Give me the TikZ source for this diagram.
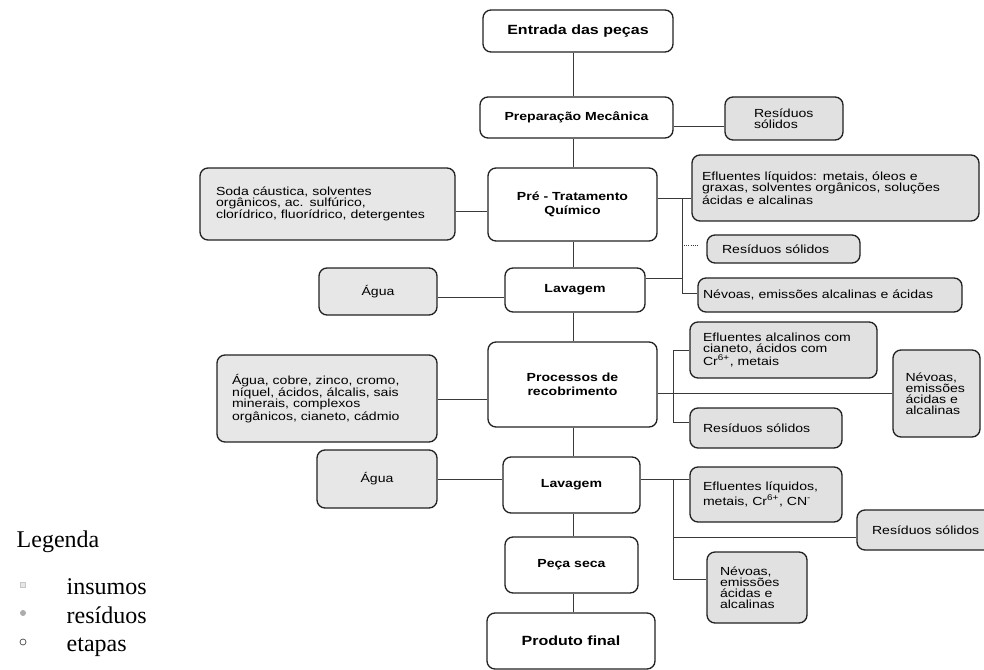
\documentclass[tikz,border=0pt]{standalone}
\usepackage{fontspec}
\setmainfont{Liberation Sans}[FakeStretch=1.2]
\newfontfamily\legendfont{Liberation Serif}
\usetikzlibrary{calc}

\definecolor{insumocor}{HTML}{E7E7E7}
\definecolor{residuocor}{HTML}{E1E1E1}
\definecolor{borda}{HTML}{222222}
\definecolor{linha}{HTML}{3A3A3A}

\tikzset{
  caixa/.style 2 args={draw=borda, line width=1pt, rounded corners=6pt, minimum width=#1*0.75pt, minimum height=#2*0.75pt, inner sep=0pt},
  tw/.style={text width=#1*0.75pt},
  etapa/.style={fill=white, align=center, font=\fontsize{8.8}{10.5}\selectfont\bfseries},
  insumo/.style={fill=insumocor, align=left, font=\fontsize{8.8}{8.3}\selectfont},
  residuo/.style={fill=residuocor, align=left, font=\fontsize{8.8}{8.3}\selectfont},
  liga/.style={draw=linha, line width=0.6pt},
  legtexto/.style={anchor=base west, font=\legendfont\fontsize{18}{20}\selectfont}
}

\begin{document}
\begin{tikzpicture}[x=0.75pt, y=-0.75pt]
\useasboundingbox (0,0) rectangle (984,670);

%Etapas
\node[caixa={190}{42}, etapa, font=\fontsize{10}{12}\selectfont\bfseries] (entrada) at (578,31) {Entrada das peças};
\node[caixa={193}{41}, etapa] (prep) at (576.5,117.5) {Preparação Mecânica};
\node[caixa={169}{73}, etapa] (pretrat) at (572.5,204.5) {Pré - Tratamento\\Químico};
\node[caixa={140}{44}, etapa] (lav1) at (575,290) {Lavagem};
\node[caixa={169}{85}, etapa] (proc) at (572.5,384.5) {Processos de\\recobrimento};
\node[caixa={137}{56}, etapa] (lav2) at (571.5,485) {Lavagem};
\node[caixa={133}{56}, etapa] (seca) at (571.5,565) {Peça seca};
\node[caixa={168}{56}, etapa, font=\fontsize{10}{12}\selectfont\bfseries] (final) at (571,641) {Produto final};

%Insumos
\node[caixa={255}{72}, insumo, tw=223] (soda) at (327.5,204) {Soda cáustica, solventes\\orgânicos, ac. sulfúrico,\\clorídrico, fluorídrico, detergentes};
\node[caixa={118}{47}, insumo, align=center] (agua1) at (378,291.5) {Água};
\node[caixa={220}{87}, insumo, tw=190] (aguacobre) at (327,398.5) {Água, cobre, zinco, cromo,\\níquel, ácidos, álcalis, sais\\minerais, complexos\\orgânicos, cianeto, cádmio};
\node[caixa={120}{58}, insumo, align=center] (agua2) at (377,479) {Água};

%Residuos
\node[caixa={118}{43}, residuo, tw=60] (res1) at (784,118.5) {Resíduos\\sólidos};
\node[caixa={287}{66}, residuo, tw=267] (efl1) at (835.5,188) {Efluentes líquidos: metais, óleos e\\graxas, solventes orgânicos, soluções\\ácidas e alcalinas};
\node[caixa={153}{28}, residuo, tw=123] (res2) at (783.5,249) {Resíduos sólidos};
\node[caixa={264}{34}, residuo, tw=254] (nev1) at (830,295) {Névoas, emissões alcalinas e ácidas};
\node[caixa={187}{56}, residuo, tw=161] (eflalc) at (783.5,350) {Efluentes alcalinos com\\cianeto, ácidos com\\Cr\textsuperscript{6+}, metais};
\node[caixa={87}{87}, residuo, tw=62] (nev2) at (936.5,393.5) {Névoas,\\emissões\\ácidas e\\alcalinas};
\node[caixa={152}{40}, residuo, tw=126] (res3) at (766,428) {Resíduos sólidos};
\node[caixa={152}{55}, residuo, tw=126] (efl2) at (766,494.5) {Efluentes líquidos,\\metais, Cr\textsuperscript{6+}, CN\textsuperscript{-}};
\node[caixa={143}{40}, residuo, tw=113] (res4) at (928.5,530) {Resíduos sólidos};
\node[caixa={100}{71}, residuo, tw=74] (nev3) at (757,587.5) {Névoas,\\emissões\\ácidas e\\alcalinas};

%Ligacoes - eixo central
\coordinate (eixo) at (573,0);
\foreach \a/\b in {entrada/prep, prep/pretrat, pretrat/lav1, lav1/proc, proc/lav2, lav2/seca, seca/final}
  \draw[liga] (\a.south -| eixo) -- (\b.north -| eixo);

%Ligacoes - insumos
\coordinate (s1) at (0,211);
\coordinate (a1) at (0,297);
\coordinate (a2) at (0,399);
\coordinate (a3) at (0,479);
\draw[liga] (soda.east |- s1) -- (pretrat.west |- s1);
\draw[liga] (agua1.east |- a1) -- (lav1.west |- a1);
\draw[liga] (aguacobre.east |- a2) -- (proc.west |- a2);
\draw[liga] (agua2.east |- a3) -- (lav2.west |- a3);

%Ligacoes - residuos
\coordinate (p1) at (0,126);
\draw[liga] (prep.east |- p1) -- (res1.west |- p1);

\coordinate (b1) at (682,198);
\coordinate (l1) at (0,278);
\coordinate (n1) at (0,293);
\coordinate (r2fim) at (699,245);
\draw[liga] (pretrat.east |- b1) -- (efl1.west |- b1);
\draw[liga] (b1) |- (nev1.west |- n1);
\draw[liga] (lav1.east |- l1) -- (b1 |- l1);
\draw[liga, densely dotted] (b1 |- r2fim) -- (r2fim);

\coordinate (b2) at (673,350);
\coordinate (r3) at (0,422);
\coordinate (pr) at (0,393);
\draw[liga] (b2) -- (eflalc.west |- b2);
\draw[liga] (b2) |- (res3.west |- r3);
\draw[liga] (proc.east |- pr) -- (nev2.west |- pr);

\coordinate (b3) at (673,479);
\coordinate (r4) at (0,537);
\coordinate (n3) at (0,579);
\draw[liga] (lav2.east |- b3) -- (efl2.west |- b3);
\draw[liga] (b3) |- (nev3.west |- n3);
\draw[liga] (b3 |- r4) -- (res4.west |- r4);

%Legenda
\node[legtexto] (legenda) at (12,547) {Legenda};
\node[legtexto] (tinsumos) at (62,594) {insumos};
\node[legtexto] (tresiduos) at (62,623) {resíduos};
\node[legtexto] (tetapas) at (62,651) {etapas};
\node[draw=gray!45, fill=insumocor, minimum size=3.5pt, inner sep=0pt] (minsumos) at (23,585) {};
\node[circle, fill=gray!65, minimum size=4.5pt, inner sep=0pt] (mresiduos) at (23,613) {};
\node[circle, draw=black!75, line width=0.5pt, minimum size=4.5pt, inner sep=0pt] (metapas) at (23,642) {};
\end{tikzpicture}
\end{document}
